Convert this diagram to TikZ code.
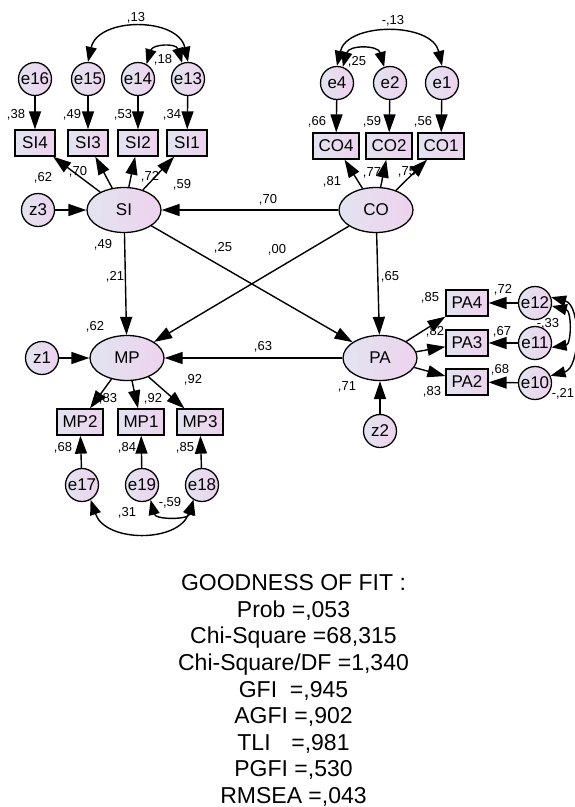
\documentclass[tikz,border=0pt]{standalone}
\usepackage{fontspec}
\setmainfont{Liberation Sans}
\usetikzlibrary{arrows.meta,shapes.geometric}

\definecolor{fillL}{RGB}{226,228,240}
\definecolor{fillR}{RGB}{238,210,238}

\tikzset{
  var/.style={draw, line width=1.3pt, left color=fillL, right color=fillR,
    font=\fontsize{17}{19}\selectfont, inner sep=0pt},
  errc/.style={var, circle, minimum size=33pt},
  obs/.style={var, rectangle, minimum width=40pt, minimum height=26pt, inner xsep=5.5pt},
  lat/.style={var, ellipse, minimum width=74pt, minimum height=45pt},
  path/.style={line width=1.4pt, -{Triangle[length=18pt,width=12pt]}},
  cov/.style={line width=1.4pt, {Triangle[length=15pt,width=11pt]}-{Triangle[length=15pt,width=11pt]}},
  coef/.style={font=\fontsize{13}{15}\selectfont, inner sep=0pt},
}

\begin{document}
\begin{tikzpicture}[x=1pt,y=-1pt]
\useasboundingbox (0,0) rectangle (575,807);

% ---------- SI block ----------
\node[errc] (e16) at (35,79) {e16};
\node[errc] (e15) at (88,79) {e15};
\node[errc] (e14) at (138,79) {e14};
\node[errc] (e13) at (188,79) {e13};
\node[obs] (SI4) at (35,143) {SI4};
\node[obs] (SI3) at (88,143) {SI3};
\node[obs] (SI2) at (138,143) {SI2};
\node[obs] (SI1) at (187,143) {SI1};
\node[lat] (SI) at (124,210) {SI};
\node[errc] (z3) at (38,210) {z3};

% ---------- CO block ----------
\node[errc] (e4) at (337,83) {e4};
\node[errc] (e2) at (390,83) {e2};
\node[errc] (e1) at (442,83) {e1};
\node[obs] (CO4) at (336,146) {CO4};
\node[obs] (CO2) at (389,146) {CO2};
\node[obs] (CO1) at (441,146) {CO1};
\node[lat] (CO) at (376,210) {CO};

% ---------- MP block ----------
\node[lat] (MP) at (127,358) {MP};
\node[errc] (z1) at (42,358) {z1};
\node[obs] (MP2) at (80,422) {MP2};
\node[obs] (MP1) at (141,422) {MP1};
\node[obs] (MP3) at (200,422) {MP3};
\node[errc] (e17) at (82,485) {e17};
\node[errc] (e19) at (142,485) {e19};
\node[errc] (e18) at (202,485) {e18};

% ---------- PA block ----------
\node[lat] (PA) at (380,358) {PA};
\node[errc] (z2) at (380,431) {z2};
\node[obs] (PA4) at (467,303) {PA4};
\node[obs] (PA3) at (467,343) {PA3};
\node[obs] (PA2) at (467,382) {PA2};
\node[errc] (e12) at (535,303) {e12};
\node[errc] (e11) at (535,343) {e11};
\node[errc] (e10) at (535,383) {e10};

% ---------- paths ----------
\foreach \e/\o in {e16/SI4,e15/SI3,e14/SI2,e13/SI1,e4/CO4,e2/CO2,e1/CO1,
                   e17/MP2,e19/MP1,e18/MP3,e12/PA4,e11/PA3,e10/PA2}
  \draw[path] (\e) -- (\o);
\foreach \o in {SI4,SI3,SI2,SI1} \draw[path] (SI) -- (\o);
\foreach \o in {CO4,CO2,CO1} \draw[path] (CO) -- (\o);
\foreach \o in {MP2,MP1,MP3} \draw[path] (MP) -- (\o);
\foreach \o in {PA4,PA3,PA2} \draw[path] (PA) -- (\o);
\draw[path] (z3) -- (SI);
\draw[path] (z1) -- (MP);
\draw[path] (z2) -- (PA);
\draw[path] (CO) -- (SI);
\draw[path] (SI) -- (MP);
\draw[path] (SI) -- (PA);
\draw[path] (CO) -- (MP);
\draw[path] (CO) -- (PA);
\draw[path] (PA) -- (MP);

% ---------- covariances ----------
\draw[cov] (e15.north) .. controls +(10,-45) and +(-10,-45) .. (e13.north);
\draw[cov] (e14.60) .. controls +(6,-20) and +(-6,-20) .. (e13.110);
\draw[cov] (e4.north) .. controls +(10,-44) and +(-10,-44) .. (e1.north);
\draw[cov] (e4.70) .. controls +(6,-22) and +(-6,-22) .. (e2.110);
\draw[cov] (e12.20) .. controls +(30,8) and +(30,-8) .. (e10.25);
\draw[cov] (e12.-10) .. controls +(20,5) and +(20,-3) .. (e11.-15);
\draw[cov] (e17.-60) .. controls +(15,43) and +(-15,43) .. (e18.-120);
\draw[cov] (e19.-60) .. controls +(5,20) and +(-5,20) .. (e18.-120);

% ---------- coefficients ----------
\node[coef] (c1) at (136,18) {,13};
\node[coef] (c2) at (163,60) {,18};
\node[coef] (c3) at (16,115) {,38};
\node[coef] (c4) at (72,115) {,49};
\node[coef] (c5) at (123,115) {,53};
\node[coef] (c6) at (172,115) {,34};
\node[coef] (c7) at (43,178) {,62};
\node[coef] (c8) at (78,172) {,70};
\node[coef] (c9) at (150,177) {,72};
\node[coef] (c10) at (182,185) {,59};
\node[coef] (c11) at (103,245) {,49};
\node[coef] (c12) at (393,21) {-,13};
\node[coef] (c13) at (357,62) {,25};
\node[coef] (c14) at (317,122) {,66};
\node[coef] (c15) at (372,122) {,59};
\node[coef] (c16) at (423,122) {,56};
\node[coef] (c17) at (332,182) {,81};
\node[coef] (c18) at (372,173) {,77};
\node[coef] (c19) at (407,172) {,75};
\node[coef] (c20) at (268,200) {,70};
\node[coef] (c21) at (223,248) {,25};
\node[coef] (c22) at (277,250) {,00};
\node[coef] (c23) at (115,277) {,21};
\node[coef] (c24) at (390,277) {,65};
\node[coef] (c25) at (95,327) {,62};
\node[coef] (c26) at (263,347) {,63};
\node[coef] (c27) at (430,298) {,85};
\node[coef] (c28) at (503,290) {,72};
\node[coef] (c29) at (435,332) {,82};
\node[coef] (c30) at (502,332) {,67};
\node[coef] (c31) at (500,370) {,68};
\node[coef] (c32) at (432,392) {,83};
\node[coef] (c33) at (347,387) {,71};
\node[coef] (c34) at (548,324) {-,33};
\node[coef] (c35) at (563,394) {-,21};
\node[coef] (c36) at (108,399) {,83};
\node[coef] (c37) at (153,399) {,92};
\node[coef] (c38) at (193,380) {,92};
\node[coef] (c39) at (63,448) {,68};
\node[coef] (c40) at (127,448) {,84};
\node[coef] (c41) at (185,448) {,85};
\node[coef] (c42) at (170,503) {-,59};
\node[coef] (c43) at (127,513) {,31};

% ---------- fit indices ----------
\node[anchor=north, inner sep=0pt, align=center, font=\fontsize{23}{26.6}\selectfont]
  (fit) at (293.5,574.5)
  {GOODNESS OF FIT :\\
   Prob =,053\\
   Chi-Square =68,315\\
   Chi-Square/DF =1,340\\
   GFI\ \ =,945\\
   AGFI =,902\\
   TLI\hspace{0.9em}=,981\\
   PGFI =,530\\
   RMSEA =,043};
\end{tikzpicture}
\end{document}
